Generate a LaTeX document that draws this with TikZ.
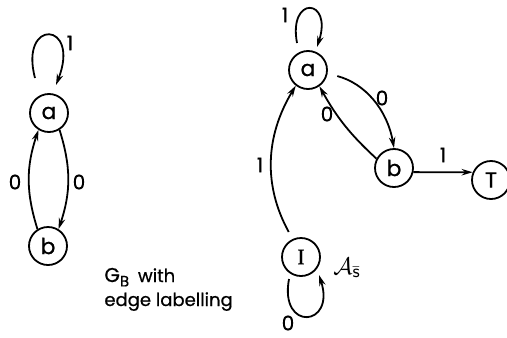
\documentclass[tikz,border=0pt]{standalone}
\usepackage{fontspec}
\setmainfont{Poppins}[FakeBold=0.7]
\newfontfamily\serifI{Liberation Serif}[FakeBold=0.7]
\usetikzlibrary{arrows.meta,calc}
\begin{document}
\begin{tikzpicture}[x=0.5pt,y=0.5pt,
  st/.style={circle,draw,line width=0.9pt,minimum size=19pt,inner sep=0pt,font=\fontsize{11}{13}\selectfont},
  ed/.style={line width=0.9pt,-{Stealth[length=5.5pt,width=3.2pt]}},
  lab/.style={font=\fontsize{10}{11}\selectfont,inner sep=0pt},
  txt/.style={font=\fontsize{9}{11}\selectfont,inner sep=0pt,anchor=base west}]
\useasboundingbox (0,0) rectangle (507,-337);
% left graph
\node[st] (a1) at (49,-113) {a};
\node[st] (b1) at (48,-246) {b};
\draw[ed] ($(a1)+(-14,35)$) .. controls ($(a1)+(-30,95)$) and ($(a1)+(32,92)$) .. ($(a1)+(7,28)$);
\node[lab] (l1) at (70,-43) {1};
\draw[ed] (a1.-58) to[bend left=18] (b1.58);
\draw[ed] (b1.122) to[bend left=18] (a1.-122);
\node[lab] (l2) at (79,-182) {0};
\node[lab] (l3) at (15,-182) {0};
\node[txt] (gb1) at (104,-282) {{\fontsize{10}{11}\selectfont G}\raisebox{-0.45ex}{\fontsize{7.5}{8}\selectfont B}\hspace{2pt} with};
\node[txt] (gb2) at (104,-306) {edge labelling};
% right graph
\node[st] (a2) at (308,-70) {a};
\node[st] (b2) at (394,-168) {b};
\node[st] (T) at (491,-180) {T};
\node[st] (I) at (301,-257) {\serifI I};
\draw[ed] ($(a2)+(-11,27)$) .. controls ($(a2)+(-20,75)$) and ($(a2)+(25,72)$) .. ($(a2)+(9,23)$);
\node[lab] (l4) at (285,-15) {1};
\draw[ed,shorten <=5pt] (a2.-10) to[out=-15,in=100] (b2.north);
\node[lab] (l5) at (382,-98) {0};
\draw[ed] (b2.152) to[bend left=9] (a2.-55);
\node[lab] (l6) at (327,-114) {0};
\draw[ed] (b2.-12) -- (T.157);
\node[lab] (l7) at (443,-155) {1};
\draw[ed,shorten <=4pt] (I.115) to[bend left=30] (a2.-128);
\node[lab] (l8) at (260,-165) {1};
\draw[ed] ($(I)+(-12,-22)$) .. controls ($(I)+(-22,-75)$) and ($(I)+(35,-70)$) .. ($(I)+(18,-18)$);
\node[lab] (l9) at (288,-323) {0};
\node[inner sep=0pt,font=\fontsize{13}{15}\selectfont] (As) at (347,-268) {$\mathcal{A}_{\bar{\mathsf{s}}}$};
\end{tikzpicture}
\end{document}
